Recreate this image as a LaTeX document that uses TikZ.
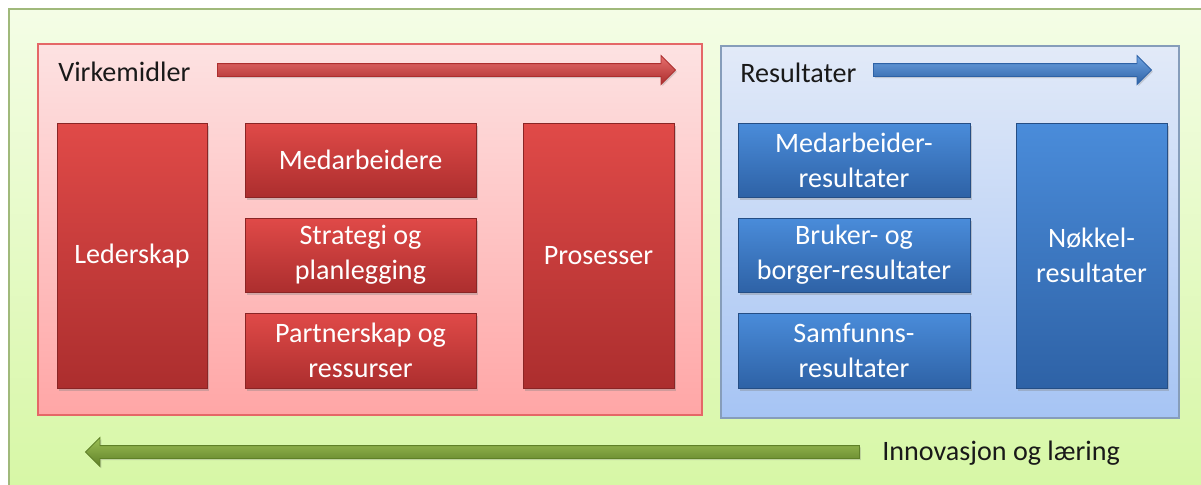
\documentclass[tikz,border=0pt]{standalone}
\usepackage{fontspec}
\setmainfont{Carlito}
\usetikzlibrary{shapes.arrows,shadows}

\definecolor{bgtop}{HTML}{F4FDE6}
\definecolor{bgbot}{HTML}{D6F7A4}
\definecolor{redtop}{HTML}{FDE2E2}
\definecolor{redbot}{HTML}{FFA6A6}
\definecolor{bluetop}{HTML}{E2EAF8}
\definecolor{bluebot}{HTML}{A6C4F4}
\definecolor{rboxtop}{HTML}{E04A48}
\definecolor{rboxbot}{HTML}{AC2E2E}
\definecolor{bboxtop}{HTML}{4A8CDA}
\definecolor{bboxbot}{HTML}{2E62A6}
\definecolor{gartop}{HTML}{9CBF55}
\definecolor{garbot}{HTML}{5F8028}

\tikzset{
  panel/.style={draw, line width=0.7pt},
  box/.style={rectangle, inner sep=0pt, align=center, text=white,
    font=\fontsize{16pt}{20pt}\selectfont,
    drop shadow={shadow xshift=1.2pt, shadow yshift=-1.5pt, opacity=0.35}},
  redbox/.style={box, draw=rboxbot!80!black, line width=0.4pt, top color=rboxtop, bottom color=rboxbot},
  bluebox/.style={box, draw=bboxbot!80!black, line width=0.4pt, top color=bboxtop, bottom color=bboxbot},
  head/.style={font=\fontsize{16pt}{20pt}\selectfont, text=black!90, inner sep=0pt},
  blockarrow/.style={single arrow, inner xsep=0pt, inner ysep=6*0.02cm,
    minimum width=28*0.02cm, single arrow head extend=8*0.02cm, line width=0.5pt,
    drop shadow={shadow xshift=0.8pt, shadow yshift=-1pt, opacity=0.3}},
}

\begin{document}
\begin{tikzpicture}[x=0.02cm, y=-0.02cm]
\useasboundingbox (0,0) rectangle (1201,484);
\clip (0,0) rectangle (1201,484);
% background
\fill[white] (0,0) rectangle (1201,484);
\draw[draw=black!25!bgbot, top color=bgtop, bottom color=bgbot, line width=0.6pt] (9,9) rectangle (1220,500);

% panels
\draw[panel, draw=red!55!white!90!black, top color=redtop, bottom color=redbot] (38,44) rectangle (702,415);
\draw[panel, draw=bboxtop!45!gray!80, top color=bluetop, bottom color=bluebot] (721,46) rectangle (1179,418);

% headings and arrows
\node[head, anchor=west] (virk) at (58,72) {Virkemidler};
\node[blockarrow, anchor=west, minimum height=458*0.02cm, draw=rboxbot, top color=rboxtop!80!white, bottom color=rboxbot] (varrow) at (217,70) {};
\node[head, anchor=west] (res) at (740,73) {Resultater};
\node[blockarrow, anchor=west, minimum height=278*0.02cm, draw=bboxbot, top color=bboxtop!80!white, bottom color=bboxbot] (rarrow) at (873,70) {};
\node[head, anchor=west] (innov) at (882,453) {Innovasjon og læring};
\node[blockarrow, shape border rotate=180, anchor=east, minimum height=774*0.02cm, draw=garbot, top color=gartop, bottom color=garbot] (iarrow) at (860,452) {};

% virkemidler
\node[redbox, minimum width=150*0.02cm, minimum height=265*0.02cm] (leder) at (132,255.5) {Lederskap};
\node[redbox, minimum width=231*0.02cm, minimum height=74*0.02cm] (medarb) at (360.5,160) {Medarbeidere};
\node[redbox, minimum width=231*0.02cm, minimum height=74*0.02cm] (strat) at (360.5,255) {Strategi og\\planlegging};
\node[redbox, minimum width=231*0.02cm, minimum height=75*0.02cm] (partner) at (360.5,350.5) {Partnerskap og\\ressurser};
\node[redbox, minimum width=151*0.02cm, minimum height=265*0.02cm] (prosess) at (598.5,255.5) {Prosesser};

% resultater
\node[bluebox, minimum width=232*0.02cm, minimum height=74*0.02cm] (medres) at (854,160) {Medarbeider-\\resultater};
\node[bluebox, minimum width=232*0.02cm, minimum height=74*0.02cm] (brukres) at (854,255) {Bruker- og\\borger-resultater};
\node[bluebox, minimum width=232*0.02cm, minimum height=75*0.02cm] (samres) at (854,350.5) {Samfunns-\\resultater};
\node[bluebox, minimum width=151*0.02cm, minimum height=265*0.02cm] (nokkel) at (1091.5,255.5) {Nøkkel-\\resultater};
\end{tikzpicture}
\end{document}
